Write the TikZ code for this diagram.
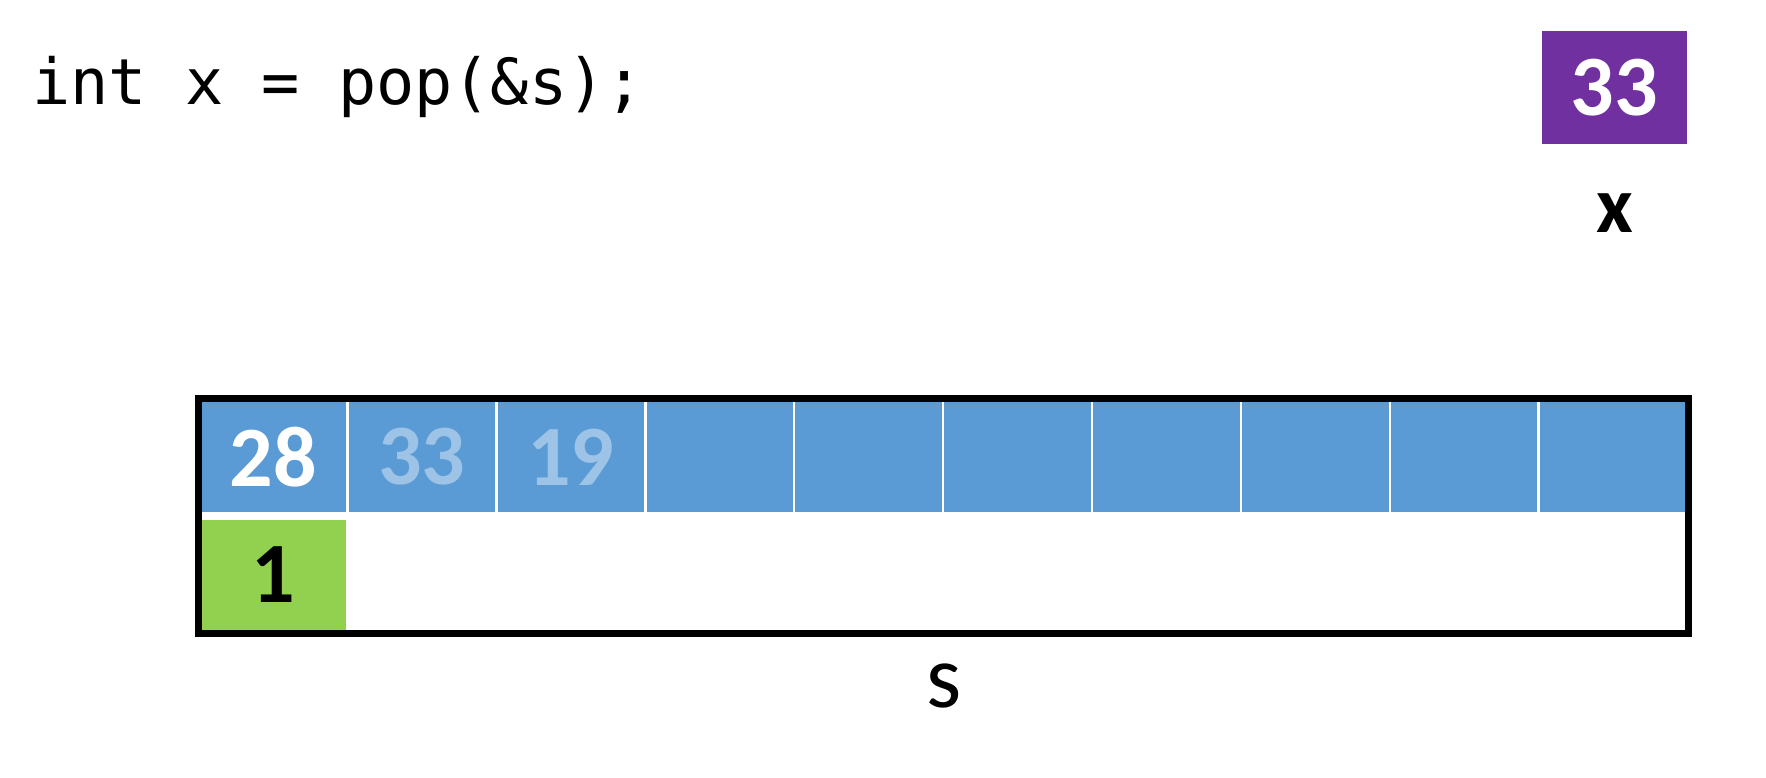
\documentclass[tikz,border=0pt]{standalone}
\usepackage{fontspec}
\setmainfont{Carlito}
\newfontfamily\codefont{DejaVu Sans Mono}
\usepackage{tikz}
\usetikzlibrary{positioning}
\definecolor{cellblue}{HTML}{5B9BD5}
\definecolor{fadetext}{HTML}{9DC3E6}
\definecolor{topgreen}{HTML}{92D050}
\definecolor{varpurple}{HTML}{7030A0}
\begin{document}
\begin{tikzpicture}[x=1pt,y=-1pt,font=\bfseries\fontsize{86}{96}\selectfont]
% ---- styles ----
\tikzstyle{cellbox}=[draw=white,line width=2.5pt,fill=cellblue,inner sep=0pt,
  minimum width=148.9pt,minimum height=113pt]
\tikzstyle{topbox}=[draw=white,line width=2.5pt,fill=topgreen,inner sep=0pt,
  minimum width=148.9pt,minimum height=112pt]
\tikzstyle{varbox}=[fill=varpurple,text=white,inner sep=0pt,
  minimum width=145pt,minimum height=113pt]
\tikzstyle{frame}=[line width=7pt]
\tikzstyle{lbl}=[anchor=base,inner sep=0pt,font=\bfseries\fontsize{80}{90}\selectfont]
\useasboundingbox (0,0) rectangle (1766,778);

% ---- code line ----
\node[anchor=base west,inner sep=0pt,font=\codefont\fontsize{63.5}{72}\selectfont]
  (code) at (32,105) {int x = pop(\&s);};

% ---- variable x ----
\node[varbox] (xbox) at (1614.5,87.5) {33};
\node[lbl] (xlabel) at (1614.5,233) {x};

% ---- stack array ----
\foreach \i/\v/\c in {1/28/white,2/33/fadetext,3/19/fadetext,4/{}/white,
  5/{}/white,6/{}/white,7/{}/white,8/{}/white,9/{}/white,10/{}/white}
  \node[cellbox,text=\c] (cell\i) at ({273.05+(\i-1)*148.9},457) {\v};

% ---- top index ----
\node[topbox] (topcell) at (273.05,575) {1};

% ---- struct frame ----
\draw[frame] (198.5,398.5) rectangle (1688,633.5);
\node[lbl,font=\fontsize{90}{100}\selectfont] (slabel) at (944.5,707) {s};

\end{tikzpicture}
\end{document}
